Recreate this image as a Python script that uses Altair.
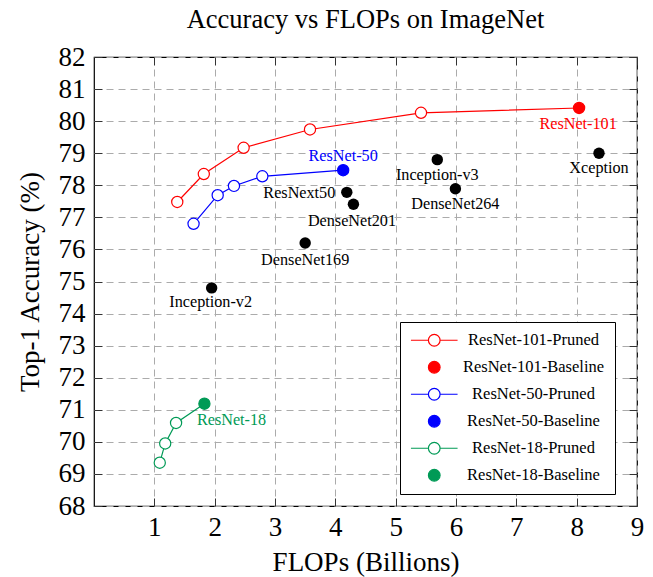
import altair as alt
import pandas as pd

# ---------------- data ----------------
r101_pruned_flops = [1.38, 1.82, 2.48, 3.58, 5.42]
r101_pruned_acc = [77.48, 78.35, 79.17, 79.74, 80.26]
r101_base_flops = [8.04]
r101_base_acc = [80.41]

r50_pruned_flops = [1.65, 2.05, 2.32, 2.79]
r50_pruned_acc = [76.80, 77.69, 77.98, 78.28]
r50_base_flops = [4.13]
r50_base_acc = [78.47]

r18_pruned_flops = [1.09, 1.18, 1.36]
r18_pruned_acc = [69.35, 69.95, 70.59]
r18_base_flops = [1.83]
r18_base_acc = [71.19]

other_names = ["Inception-v2", "DenseNet169", "ResNext50", "DenseNet201",
               "Inception-v3", "DenseNet264", "Xception"]
other_flops = [1.95, 3.50, 4.19, 4.30, 5.69, 5.99, 8.37]
other_acc = [74.80, 76.20, 77.78, 77.41, 78.80, 77.89, 79.00]

families = ["ResNet-101", "ResNet-50", "ResNet-18"]
series_order = ["ResNet-101-Pruned", "ResNet-101-Baseline",
                "ResNet-50-Pruned", "ResNet-50-Baseline",
                "ResNet-18-Pruned", "ResNet-18-Baseline"]
x_ticks = [1, 2, 3, 4, 5, 6, 7, 8, 9]
y_ticks = list(range(68, 83))

# ---------------- styles ----------------
RED, BLUE, GREEN = "#ff0000", "#0000ff", "#009a56"
FONT = "Liberation Serif"
fam_colors = [RED, BLUE, GREEN]
stroke_range = [RED, RED, BLUE, BLUE, GREEN, GREEN]
fill_range = ["white", RED, "white", BLUE, "white", GREEN]
LINE_SYM = "M-4,0L-1,0M1,0L4,0M-1,0A1,1,0,1,0,1,0A1,1,0,1,0,-1,0Z"
shape_range = [LINE_SYM, "circle", LINE_SYM, "circle", LINE_SYM, "circle"]

# label styling: (dx, dy, align, color)
label_style = {
    "Inception-v2": (-1, 14.5, "center", "black"),
    "DenseNet169": (0, 17, "center", "black"),
    "ResNext50": (-11.5, 0.5, "right", "black"),
    "DenseNet201": (-1.5, 17, "center", "black"),
    "Inception-v3": (0, 15.5, "center", "black"),
    "DenseNet264": (0, 15.5, "center", "black"),
    "Xception": (0, 15, "center", "black"),
    "ResNet-101": (-1, 16.5, "center", RED),
    "ResNet-50": (0, -14.5, "center", BLUE),
    "ResNet-18": (-7.5, 16.5, "left", GREEN),
}

# ---------------- tables ----------------
fam_data = [
    ("ResNet-101", r101_pruned_flops, r101_pruned_acc, r101_base_flops, r101_base_acc),
    ("ResNet-50", r50_pruned_flops, r50_pruned_acc, r50_base_flops, r50_base_acc),
    ("ResNet-18", r18_pruned_flops, r18_pruned_acc, r18_base_flops, r18_base_acc),
]
rows = []
for fam, pf, pa, bf, ba in fam_data:
    for x, y in zip(pf, pa):
        rows.append(dict(family=fam, series=fam + "-Pruned", flops=x, acc=y))
    for x, y in zip(bf, ba):
        rows.append(dict(family=fam, series=fam + "-Baseline", flops=x, acc=y))
df = pd.DataFrame(rows)
df_other = pd.DataFrame(dict(name=other_names, flops=other_flops, acc=other_acc))

label_rows = [dict(name=n, flops=x, acc=y) for n, x, y in zip(other_names, other_flops, other_acc)]
for fam, pf, pa, bf, ba in fam_data:
    label_rows.append(dict(name=fam, flops=bf[0], acc=ba[0]))
df_labels = pd.DataFrame(label_rows)

xscale = alt.Scale(domain=[0, 9], nice=False, zero=False)
yscale = alt.Scale(domain=[68, 82], nice=False, zero=False)

common_axis = dict(grid=True, gridDash=[7, 5], gridColor="#ababab", gridWidth=1,
                   domain=False, ticks=True, tickSize=8, tickColor="#333333",
                   tickWidth=1, offset=-8, labelFont=FONT, labelFontSize=27,
                   labelColor="black", labelFlush=False, labelOverlap=False,
                   titleFont=FONT, titleFontSize=27, titleFontWeight="normal",
                   titleColor="black")
x_axis = alt.Axis(values=x_ticks, title="FLOPs (Billions)", labelPadding=8,
                  titlePadding=9, **common_axis)
y_axis = alt.Axis(values=y_ticks, title="Top-1 Accuracy (%)", labelPadding=9,
                  titlePadding=14, **common_axis)
mirror = dict(labels=False, grid=False, domain=False, ticks=True, tickSize=8,
              tickColor="#333333", tickWidth=1, offset=-8, title=None)
x_axis_top = alt.Axis(orient="top", values=x_ticks, **mirror)
y_axis_right = alt.Axis(orient="right", values=y_ticks, **mirror)

lines = alt.Chart(df).mark_line(strokeWidth=1.2).encode(
    x=alt.X("flops:Q", scale=xscale, axis=x_axis),
    y=alt.Y("acc:Q", scale=yscale, axis=y_axis),
    color=alt.Color("family:N", scale=alt.Scale(domain=families, range=fam_colors), legend=None),
    detail="family:N",
)

fill_enc = alt.Fill("series:N", scale=alt.Scale(domain=series_order, range=fill_range), title=None)
stroke_enc = alt.Stroke("series:N", scale=alt.Scale(domain=series_order, range=stroke_range), title=None)

points = alt.Chart(df).mark_point(size=125, strokeWidth=1.2, opacity=1, shape="circle").encode(
    x=alt.X("flops:Q", scale=xscale, axis=None),
    y=alt.Y("acc:Q", scale=yscale, axis=None),
    fill=fill_enc,
    stroke=stroke_enc,
)

others = alt.Chart(df_other).mark_circle(size=130, opacity=1, color="black").encode(
    x=alt.X("flops:Q", scale=xscale, axis=None),
    y=alt.Y("acc:Q", scale=yscale, axis=None),
)

texts = []
for name in df_labels["name"]:
    dx, dy, align, color = label_style[name]
    t = alt.Chart(df_labels).transform_filter(
        alt.datum.name == name
    ).mark_text(font=FONT, fontSize=16.2, dx=dx, dy=dy, align=align,
                baseline="middle", color=color).encode(
        x=alt.X("flops:Q", scale=xscale, axis=None),
        y=alt.Y("acc:Q", scale=yscale, axis=None),
        text="name:N",
    )
    texts.append(t)

legend_layer = alt.Chart(df).transform_filter("false").mark_point(
    size=125, strokeWidth=1.2, opacity=1).encode(
    x=alt.X("flops:Q", scale=xscale, axis=x_axis_top),
    y=alt.Y("acc:Q", scale=yscale, axis=y_axis_right),
    fill=fill_enc,
    stroke=stroke_enc,
    shape=alt.Shape("series:N", scale=alt.Scale(domain=series_order, range=shape_range), title=None),
)

chart = alt.layer(lines, points, others, *texts, legend_layer).resolve_axis(
    x="independent", y="independent"
).properties(
    width=543, height=449,
    title=alt.TitleParams("Accuracy vs FLOPs on ImageNet", font=FONT, fontSize=26.5,
                          fontWeight="normal", color="black", frame="group",
                          anchor="middle", baseline="alphabetic", offset=12, dy=23),
    autosize=alt.AutoSizeParams(type="none"),
    padding={"left": 86, "top": 49, "right": 8, "bottom": 71},
).configure_view(
    stroke="black", strokeWidth=1.2
).configure_legend(
    orient="none", legendX=306, legendY=265, padding=10,
    strokeColor="black", fillColor="white", cornerRadius=0,
    labelFont=FONT, labelFontSize=16.5, labelColor="black", labelAlign="center",
    labelOffset=91, symbolSize=136, symbolStrokeWidth=1.2, symbolOffset=16,
    rowPadding=10, labelLimit=400,
)

chart.save("out.html", embed_options={"renderer": "svg", "actions": False})
